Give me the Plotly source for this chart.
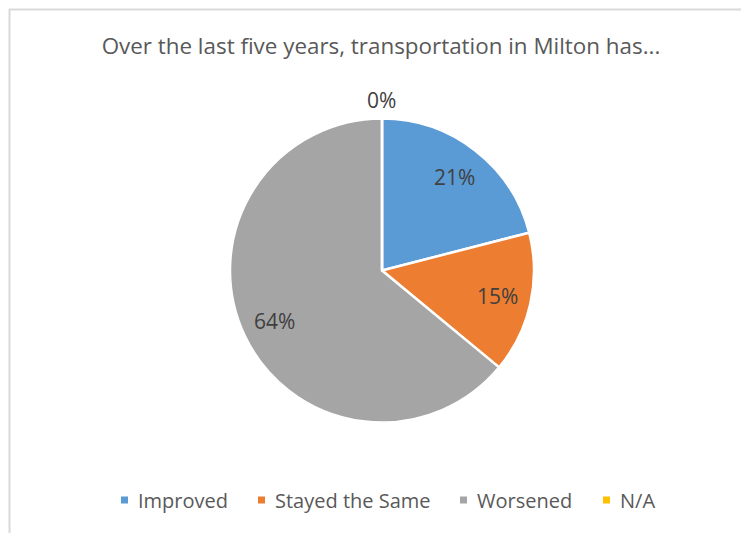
import math
import plotly.graph_objects as go

# Survey responses: change in transportation over the last five years
categories = ["Improved", "Stayed the Same", "Worsened", "N/A"]
shares = [21, 15, 64, 0]
colors = ["#5B9BD5", "#ED7D31", "#A5A5A5", "#FFC000"]
title_text = "Over the last five years, transportation in Milton has..."

W, H = 741, 533
cx, cy, R = 382, 270.5, 152  # pie centre and radius in pixels

FONT = "Open Sans"

fig = go.Figure()
fig.add_trace(go.Pie(
    labels=categories,
    values=shares,
    marker=dict(colors=colors, line=dict(color="white", width=2.5)),
    sort=False,
    direction="clockwise",
    rotation=0,
    textinfo="none",
    hoverinfo="label+percent",
    showlegend=False,
    domain=dict(x=[(cx - R) / W, (cx + R) / W],
                y=[(H - cy - R) / H, (H - cy + R) / H]),
))

# Percentage labels placed on each slice's mid-angle
total = sum(shares)
cum = 0.0
annotations = []
for cat, v in zip(categories, shares):
    mid = (cum + v / 2) / total * 2 * math.pi
    cum += v
    r = 0.78 * R if v > 0 else 1.12 * R
    px = cx + r * math.sin(mid)
    py = cy - r * math.cos(mid)
    annotations.append(dict(
        x=px / W, y=1 - py / H, xref="paper", yref="paper",
        text=f"{v}%", showarrow=False,
        font=dict(family=FONT, size=21, color="#404040"),
        xanchor="center", yanchor="middle",
    ))

# Legend row: small colour squares followed by the category name
legend_x = [121, 258, 460, 603]   # left edge of each square, px
legend_y = 500
sq = 7
shapes = []
for cat, col, lx in zip(categories, colors, legend_x):
    shapes.append(dict(
        type="rect", xref="paper", yref="paper",
        x0=lx / W, x1=(lx + sq) / W,
        y0=1 - (legend_y + sq / 2) / H, y1=1 - (legend_y - sq / 2) / H,
        fillcolor=col, line=dict(width=0),
    ))
    annotations.append(dict(
        x=(lx + sq + 8) / W, y=1 - legend_y / H, xref="paper", yref="paper",
        text=cat, showarrow=False, xanchor="left", yanchor="middle",
        font=dict(family=FONT, size=20, color="#595959"),
    ))

# Chart-area frame (top and left edges)
shapes += [
    dict(type="line", xref="paper", yref="paper",
         x0=9 / W, x1=1, y0=1 - 9.5 / H, y1=1 - 9.5 / H,
         line=dict(color="#D9D9D9", width=2)),
    dict(type="line", xref="paper", yref="paper",
         x0=9.5 / W, x1=9.5 / W, y0=0, y1=1 - 9 / H,
         line=dict(color="#D9D9D9", width=2)),
]

fig.update_layout(
    width=W, height=H,
    margin=dict(l=0, r=0, t=0, b=0),
    paper_bgcolor="white", plot_bgcolor="white",
    showlegend=False,
    title=dict(text=title_text, x=381 / W, xanchor="center",
               y=1 - 46 / H, yanchor="middle",
               font=dict(family=FONT, size=22.4, color="#595959")),
    annotations=annotations,
    shapes=shapes,
)

fig.write_html("out.html")
